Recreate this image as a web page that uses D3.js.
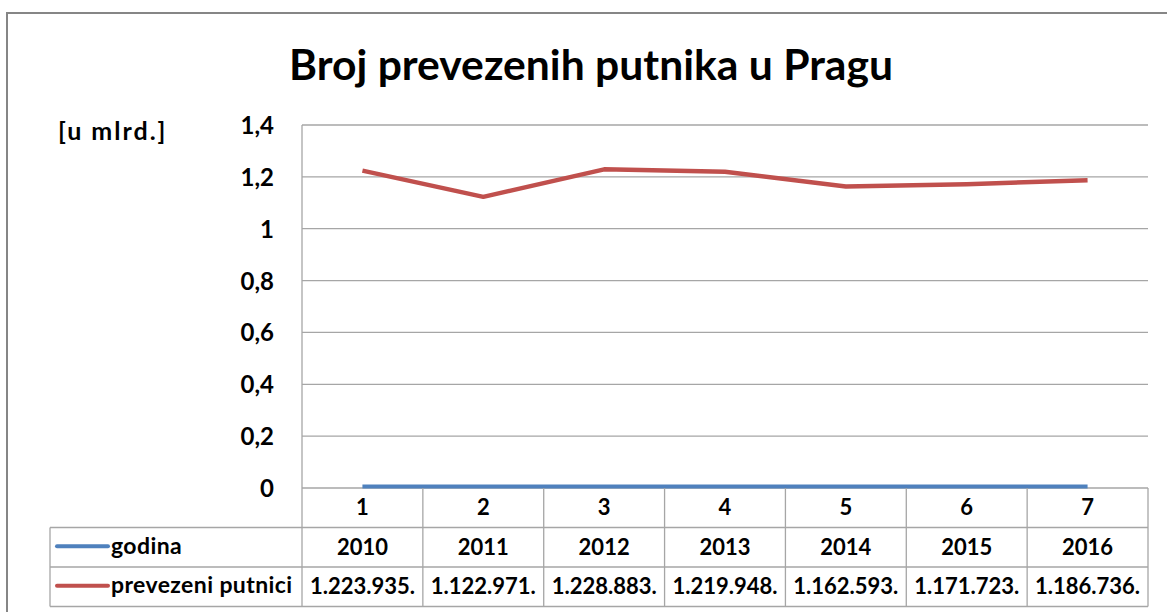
<!DOCTYPE html>
<html>
<head>
<meta charset="utf-8">
<script src="https://cdn.jsdelivr.net/npm/d3@7"></script>
<style>
  body { margin: 0; background: #fff; }
  text { font-family: Lato, "Open Sans", sans-serif; font-weight: bold; fill: #000; }
</style>
</head>
<body>
<svg id="chart" width="1167" height="612"></svg>
<script>
var categories = ["1", "2", "3", "4", "5", "6", "7"];
var years = ["2010", "2011", "2012", "2013", "2014", "2015", "2016"];
var yearsPlotted = [0, 0, 0, 0, 0, 0, 0];
var passengers = [1.223935, 1.122971, 1.228883, 1.219948, 1.162593, 1.171723, 1.186736];
var passengerLabels = ["1.223.935.", "1.122.971.", "1.228.883.", "1.219.948.", "1.162.593.", "1.171.723.", "1.186.736."];
var yTicks = [0, 0.2, 0.4, 0.6, 0.8, 1, 1.2, 1.4];
var seriesNames = ["godina", "prevezeni putnici"];
var seriesColors = ["#4F81BD", "#C0504D"];

var margin = {top: 125, left: 302, right: 1148, bottom: 488};
var rowH = 39.5;
var gridColor = "#a6a6a6";

var svg = d3.select("#chart");

// outer frame
svg.append("rect")
  .attr("x", 7).attr("y", 13)
  .attr("width", 1300).attr("height", 800)
  .attr("fill", "none").attr("stroke", "#868686").attr("stroke-width", 2);

var x = d3.scaleBand().domain(categories).range([margin.left, margin.right]);
var y = d3.scaleLinear().domain([0, 1.4]).range([margin.bottom, margin.top]);

// gridlines
svg.append("g").selectAll("line")
  .data(yTicks)
  .join("line")
  .attr("x1", margin.left).attr("x2", margin.right)
  .attr("y1", d => y(d)).attr("y2", d => y(d))
  .attr("stroke", gridColor).attr("stroke-width", 1.3);

// y tick labels (decimal comma, no trailing zeros)
var fmt = d => String(+d.toFixed(1)).replace(".", ",");
svg.append("g").selectAll("text")
  .data(yTicks)
  .join("text")
  .attr("x", 274).attr("y", d => y(d) + 9)
  .attr("text-anchor", "end")
  .style("font-size", "24px")
  .text(fmt);

svg.append("text")
  .attr("x", 58).attr("y", 140)
  .style("font-size", "25px")
  .style("letter-spacing", "2px")
  .text("[u mlrd.]");

// title
var title = svg.append("text")
  .attr("x", 591).attr("y", 80)
  .attr("text-anchor", "middle")
  .style("font-size", "40px")
  .text("Broj prevezenih putnika u Pragu");
var tw = title.node().getComputedTextLength();
title.style("font-size", (40 * 604 / tw) + "px");

// lines
var line = d3.line()
  .x((d, i) => x(categories[i]) + x.bandwidth() / 2)
  .y(d => y(d));

svg.append("path")
  .datum(yearsPlotted)
  .attr("d", line)
  .attr("transform", "translate(0,-1.5)")
  .attr("fill", "none")
  .attr("stroke", seriesColors[0]).attr("stroke-width", 4);

svg.append("path")
  .datum(passengers)
  .attr("d", line)
  .attr("fill", "none")
  .attr("stroke", seriesColors[1]).attr("stroke-width", 4.5)
  .attr("stroke-linejoin", "round");

// data table
var tableLeft = 50;
var rowTops = [margin.bottom, margin.bottom + rowH, margin.bottom + 2 * rowH];
var tableBottom = margin.bottom + 3 * rowH;
var tg = svg.append("g").attr("stroke", gridColor).attr("stroke-width", 1.3);

// vertical column lines
var colEdges = categories.map(c => x(c)).concat([margin.right]);
tg.selectAll("line.v")
  .data(colEdges)
  .join("line")
  .attr("x1", d => d).attr("x2", d => d)
  .attr("y1", (d, i) => i === 0 ? margin.top : margin.bottom)
  .attr("y2", tableBottom);

tg.append("line")
  .attr("x1", tableLeft).attr("x2", tableLeft)
  .attr("y1", rowTops[1]).attr("y2", tableBottom);

// horizontal row lines
[rowTops[1], rowTops[2], tableBottom].forEach(function (yy) {
  tg.append("line")
    .attr("x1", tableLeft).attr("x2", margin.right)
    .attr("y1", yy).attr("y2", yy);
});

var rowsText = [categories, years, passengerLabels];
rowsText.forEach(function (row, r) {
  svg.append("g").selectAll("text")
    .data(row)
    .join("text")
    .attr("x", (d, i) => x(categories[i]) + x.bandwidth() / 2)
    .attr("y", rowTops[r] + 27)
    .attr("text-anchor", "middle")
    .style("font-size", "22px")
    .text(d => d);
});

// legend keys in table
seriesNames.forEach(function (name, i) {
  var yy = rowTops[i + 1] + rowH / 2 - 1;
  svg.append("line")
    .attr("x1", 57).attr("x2", 108)
    .attr("y1", yy).attr("y2", yy)
    .attr("stroke", seriesColors[i]).attr("stroke-width", 4)
    .attr("stroke-linecap", "round");
  svg.append("text")
    .attr("x", 111).attr("y", rowTops[i + 1] + 26)
    .style("font-size", "23px")
    .style("letter-spacing", "0.4px")
    .text(name);
});
</script>
</body>
</html>
